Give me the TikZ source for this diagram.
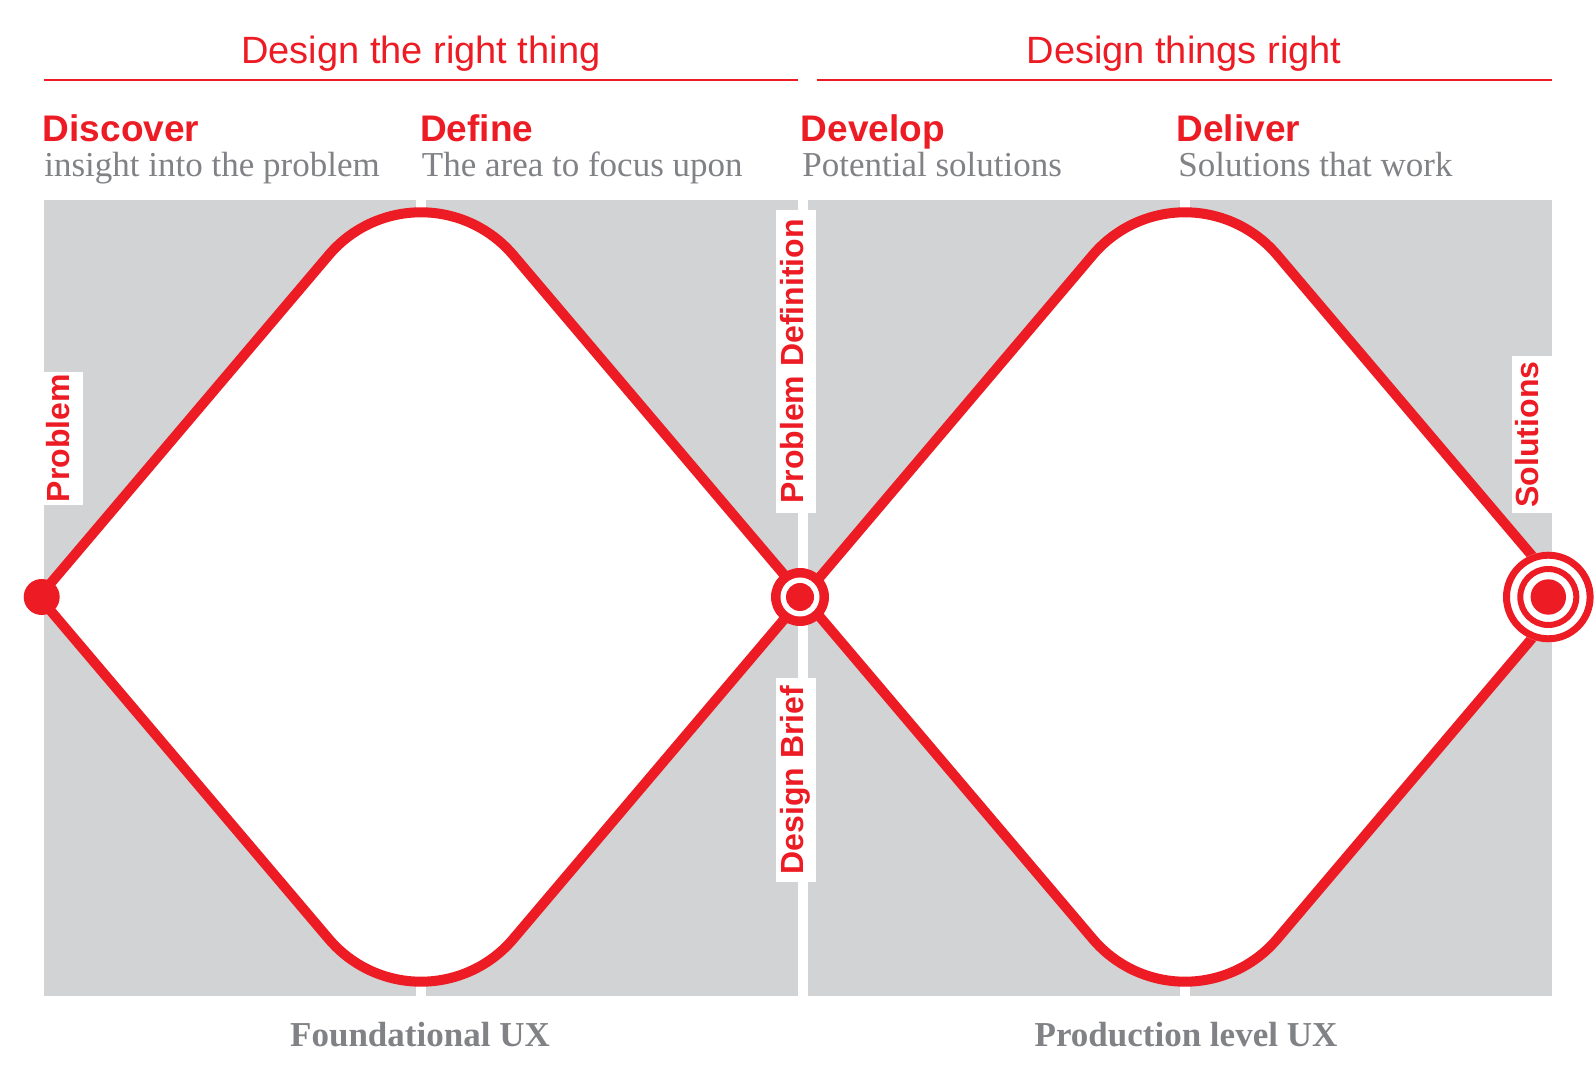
\documentclass[tikz,border=0pt]{standalone}
\usepackage{fontspec}
\setmainfont{Liberation Serif}
\setsansfont{Liberation Sans}
\definecolor{ddred}{HTML}{ED1C24}
\definecolor{ddgrey}{HTML}{D1D3D4}
\definecolor{ddtext}{HTML}{808285}

\tikzset{
  % one diamond of the process: sharp side points, rounded top and bottom
  pics/roundeddiamond/.style={code={
    \filldraw[fill=white, draw=ddred, line width=5pt, line join=miter]
      (-382,0) -- (-92.18,-341.99)
      arc[start angle=-139.72, end angle=-40.28, radius=120.83]
      -- (382,0) -- (92.18,341.99)
      arc[start angle=40.28, end angle=139.72, radius=120.83]
      -- cycle;
  }},
  heading/.style={font=\sffamily\fontsize{19pt}{22pt}\selectfont, text=ddred, anchor=base, inner sep=0},
  phase/.style={font=\sffamily\bfseries\fontsize{18.5pt}{22pt}\selectfont, text=ddred, anchor=base west, inner sep=0},
  phasenote/.style={font=\rmfamily\fontsize{17.5pt}{20pt}\selectfont, text=ddtext, anchor=base west, inner sep=0},
  footer/.style={font=\rmfamily\bfseries\fontsize{17.5pt}{20pt}\selectfont, text=ddtext, anchor=base, inner sep=0},
  milestone/.style={font=\sffamily\bfseries\fontsize{16pt}{18pt}\selectfont, text=ddred, fill=white,
    rotate=90, inner sep=0, text height=13.5pt, text depth=6.5pt, align=center},
  rule/.style={draw=ddred, line width=1pt},
  disk/.style={circle, inner sep=0, minimum size=#1},
}

\begin{document}
\begin{tikzpicture}[x=0.5pt, y=-0.5pt]
  \useasboundingbox (0,0) rectangle (1596,1090);
  \fill[white] (0,0) rectangle (1596,1090);

  % grey phase panels
  \fill[ddgrey] (44,200) rectangle (416,995.5);
  \fill[ddgrey] (426,200) rectangle (798,995.5);
  \fill[ddgrey] (808,200) rectangle (1180,995.5);
  \fill[ddgrey] (1190,200) rectangle (1551.7,995.5);

  % headings with their rules
  \node[heading] (rightthing) at (420.8,63.5) {Design the right thing};
  \node[heading] (thingsright) at (1184,63.5) {Design things right};
  \draw[rule] (44,80.5) -- (797.6,80.5);
  \draw[rule] (816.5,80.5) -- (1551.5,80.5);

  % phase names
  \node[phase] (discover) at (42.5,141.7) {Discover};
  \node[phase] (define) at (419.8,141.7) {Define};
  \node[phase] (develop) at (800.4,141.7) {Develop};
  \node[phase] (deliver) at (1176.2,141.7) {Deliver};
  \node[phasenote] (discovernote) at (44,176.5) {insight into the problem};
  \node[phasenote] (definenote) at (421.5,176.5) {The area to focus upon};
  \node[phasenote] (developnote) at (802,176.5) {Potential solutions};
  \node[phasenote] (delivernote) at (1178,176.5) {Solutions that work};

  % the two diamonds
  \pic at (421,597) {roundeddiamond};
  \pic at (1185,597) {roundeddiamond};

  % milestone labels
  \node[milestone, minimum width=66.7pt] (problem) at (62.85,438.3) {Problem};
  \node[milestone, minimum width=151.5pt] (definition) at (796,361.5) {Problem Definition};
  \node[milestone, minimum width=102pt] (brief) at (796,780) {Design Brief};
  \node[milestone, minimum width=78.5pt] (solutions) at (1531.85,434.5) {Solutions};

  % start point
  \node[disk=18pt, fill=ddred] (start) at (41.7,597) {};

  % hand-over point between the diamonds
  \node[disk=29pt, fill=ddred] (handoff) at (800,597) {};
  \node[disk=19.5pt, fill=white] (handoffring) at (handoff) {};
  \node[disk=14pt, fill=ddred] (handoffdot) at (handoff) {};

  % final target
  \node[disk=45.3pt, fill=white] (goal) at (1548.3,597) {};
  \draw[ddred, line width=3.5pt] (goal) circle[radius=41.8];
  \draw[ddred, line width=3pt] (goal) circle[radius=28];
  \node[disk=17.7pt, fill=ddred] (goaldot) at (goal) {};

  % footers
  \node[footer] (foundational) at (420,1046) {Foundational UX};
  \node[footer] (production) at (1186,1046) {Production level UX};
\end{tikzpicture}
\end{document}
